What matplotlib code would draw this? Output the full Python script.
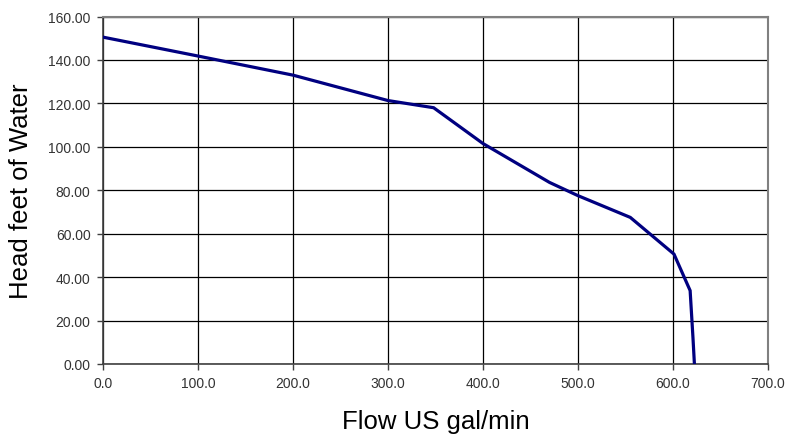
import matplotlib
matplotlib.use('Agg')
import matplotlib.pyplot as plt
from matplotlib.ticker import FormatStrFormatter

plt.rcParams['font.family'] = ['Liberation Sans', 'DejaVu Sans']

# pump curve
flow = [0, 100, 200, 300, 348, 400, 470, 500, 555, 601, 618, 621, 622.5]
head = [150.5, 141.8, 133.0, 121.3, 118.0, 101.5, 83.6, 77.5, 67.5, 50.6, 33.8, 12.0, 0.0]

fig = plt.figure(figsize=(7.87, 4.39), dpi=100)
ax = fig.add_axes([0.1309, 0.1686, 0.9759 - 0.1309, 0.9601 - 0.1686])

ax.plot(flow, head, color='#000080', linewidth=2.3, solid_joinstyle='miter', zorder=3)

ax.set_xlim(0, 700)
ax.set_ylim(0, 160)
ax.set_xticks(range(0, 701, 100))
ax.set_yticks(range(0, 161, 20))
ax.xaxis.set_major_formatter(FormatStrFormatter('%.1f'))
ax.yaxis.set_major_formatter(FormatStrFormatter('%.2f'))
ax.grid(True, color='black', linewidth=0.9)
ax.set_axisbelow(True)

for s in ['top', 'right']:
    ax.spines[s].set_color('#808080')
    ax.spines[s].set_linewidth(1.5)
for s in ['left', 'bottom']:
    ax.spines[s].set_color('#404040')
    ax.spines[s].set_linewidth(1.2)

ax.tick_params(axis='both', direction='out', length=4, width=1, color='#404040',
               labelsize=10, labelcolor='#333333', pad=5)

ax.set_xlabel('Flow US gal/min', fontsize=18.5, labelpad=13)
ax.set_ylabel('Head feet of Water', fontsize=18.5, labelpad=11)

plt.savefig('out.png', dpi=100)
plt.close()
